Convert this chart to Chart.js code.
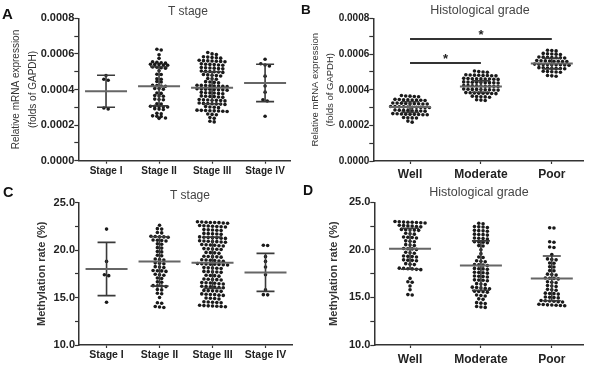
<!DOCTYPE html>
<html><head><meta charset="utf-8">
<script src="https://cdn.jsdelivr.net/npm/chart.js@4.4.1/dist/chart.umd.min.js"></script>
<style>
html,body{margin:0;padding:0;background:#fff;}
#wrap{position:relative;width:590px;height:368px;overflow:hidden;font-family:'Liberation Sans',Arial,Helvetica,sans-serif;}
canvas{position:absolute;}
.lbl{position:absolute;line-height:1;white-space:nowrap;color:#111;}
.ttl{position:absolute;line-height:1;white-space:nowrap;color:#444;transform:translateX(-50%);}
</style></head><body>
<div id="wrap">
<canvas id="cA" width="295" height="184" style="left:0;top:0;width:295px;height:184px"></canvas>
<canvas id="cB" width="295" height="184" style="left:295px;top:0;width:295px;height:184px"></canvas>
<canvas id="cC" width="295" height="184" style="left:0;top:184px;width:295px;height:184px"></canvas>
<canvas id="cD" width="295" height="184" style="left:295px;top:184px;width:295px;height:184px"></canvas>
<div class="lbl" style="left:2px;top:6px;font-size:15px;font-weight:bold">A</div>
<div class="lbl" style="left:301px;top:3px;font-size:13.5px;font-weight:bold">B</div>
<div class="lbl" style="left:3px;top:185px;font-size:14.5px;font-weight:bold">C</div>
<div class="lbl" style="left:303px;top:183px;font-size:14px;font-weight:bold">D</div>
<div class="ttl" style="left:188px;top:4.5px;font-size:12px">T stage</div>
<div class="ttl" style="left:480px;top:3.5px;font-size:12.5px">Histological grade</div>
<div class="ttl" style="left:190px;top:188.5px;font-size:12px">T stage</div>
<div class="ttl" style="left:479px;top:185.5px;font-size:12.5px">Histological grade</div>
</div>
<script>
// ---------- DATA ----------
const tStageCats = ['Stage I', 'Stage II', 'Stage III', 'Stage IV'];
const gradeCats = ['Well', 'Moderate', 'Poor'];

// Panel A: relative mRNA expression (folds of GAPDH) by T stage
const A_stageI = [0.000478, 0.000458, 0.000452, 0.000296, 0.000291];
const A_stageII = [0.000626, 0.000622, 0.000595, 0.000575,
  0.000556, 0.000553, 0.00055, 0.000548,
  0.000541, 0.000538, 0.000542, 0.000536, 0.00054,
  0.000525, 0.000522, 0.000526, 0.00052,
  0.000505, 0.000486, 0.000484, 0.00046, 0.000458, 0.000445, 0.000442,
  0.000422, 0.00042, 0.000418, 0.000424, 0.000405, 0.000402, 0.000406,
  0.00038, 0.000378, 0.000366, 0.000364, 0.000362, 0.000346, 0.000344, 0.000342,
  0.00032, 0.000318, 0.000306, 0.000305, 0.000303, 0.000302, 0.000304,
  0.00029, 0.000288, 0.000292, 0.000266, 0.000264,
  0.00025, 0.000248, 0.000252, 0.00024, 0.000238];
const A_stageIII = [0.000608, 0.0006, 0.000596,
  0.000582, 0.00058, 0.000578, 0.000584, 0.000576,
  0.000562, 0.00056, 0.000558, 0.000564, 0.000556, 0.000561, 0.000559,
  0.000542, 0.00054, 0.000538, 0.000544, 0.000536, 0.000541,
  0.000522, 0.00052, 0.000518, 0.000524, 0.000516, 0.000521,
  0.000502, 0.0005, 0.000498, 0.000504, 0.000496, 0.000501,
  0.000482, 0.00048, 0.000478, 0.000484, 0.000476,
  0.000462, 0.00046, 0.000458,
  0.000442, 0.00044, 0.000438, 0.000444,
  0.000422, 0.00042, 0.000418, 0.000424, 0.000416, 0.000421, 0.000419, 0.000423,
  0.000402, 0.0004, 0.000398, 0.000404, 0.000396, 0.000401, 0.000399, 0.000403,
  0.000382, 0.00038, 0.000378, 0.000384, 0.000376, 0.000381,
  0.000362, 0.00036, 0.000358, 0.000364, 0.000356, 0.000361,
  0.000342, 0.00034, 0.000338, 0.000344, 0.000336, 0.000341, 0.000339,
  0.000322, 0.00032, 0.000318, 0.000324, 0.000316, 0.000321, 0.000319,
  0.000302, 0.0003, 0.000298, 0.000304,
  0.000282, 0.00028, 0.000278, 0.000284, 0.000276, 0.000281, 0.000279, 0.000283,
  0.000262, 0.00026, 0.000258, 0.000242, 0.000238, 0.000222, 0.000218];
const A_stageIV = [0.00057, 0.000545, 0.000538, 0.000532, 0.000475, 0.00042, 0.000385, 0.000342, 0.000335, 0.00025];
const A_mean = [0.00039, 0.000418, 0.00041, 0.000437];
const A_sd = [0.00009, 0.00011, 0.00009, 0.000105];

// Panel B: relative mRNA expression by histological grade
const B_well = [0.000368, 0.000362, 0.000365, 0.000361, 0.000364,
  0.000344, 0.000342, 0.000346, 0.00034, 0.000343, 0.000341, 0.000345, 0.000342,
  0.000324, 0.000322, 0.000326, 0.00032, 0.000323, 0.000321, 0.000325, 0.000322, 0.00032,
  0.000304, 0.000302, 0.000306, 0.0003, 0.000303, 0.000301, 0.000305, 0.000302, 0.0003, 0.000304,
  0.000284, 0.000282, 0.000286, 0.00028, 0.000283, 0.000281, 0.000285, 0.000282,
  0.000264, 0.000262, 0.000266, 0.00026, 0.000263, 0.000261, 0.000265, 0.000262, 0.00026,
  0.000244, 0.000242, 0.000241, 0.000243, 0.000224, 0.000218];
const B_moderate = [0.000502, 0.000498, 0.000505, 0.0005,
  0.000482, 0.00048, 0.000484, 0.000478, 0.000481, 0.000479, 0.000483, 0.00048,
  0.000462, 0.00046, 0.000464, 0.000458, 0.000461, 0.000459, 0.000463, 0.00046, 0.000462,
  0.000442, 0.00044, 0.000444, 0.000438, 0.000441, 0.000439, 0.000443, 0.00044, 0.000442,
  0.000422, 0.00042, 0.000424, 0.000418, 0.000421, 0.000419, 0.000423, 0.00042, 0.000422,
  0.000402, 0.0004, 0.000404, 0.000398, 0.000401, 0.000399, 0.000403, 0.0004, 0.000402,
  0.000382, 0.00038, 0.000384, 0.000378, 0.000381, 0.000379, 0.000383, 0.00038,
  0.000362, 0.00036, 0.000364, 0.000358, 0.000361, 0.000344, 0.00034, 0.000342];
const B_poor = [0.000622, 0.000618, 0.00062,
  0.000602, 0.0006, 0.000604, 0.000598, 0.000601,
  0.000582, 0.00058, 0.000584, 0.000578, 0.000581, 0.000579, 0.000583,
  0.000562, 0.00056, 0.000564, 0.000558, 0.000561, 0.000559, 0.000563, 0.00056,
  0.000542, 0.00054, 0.000544, 0.000538, 0.000541, 0.000539, 0.000543, 0.00054, 0.000542,
  0.000522, 0.00052, 0.000524, 0.000518, 0.000521, 0.000519, 0.000523,
  0.000502, 0.0005, 0.000504, 0.000498, 0.000501, 0.00048, 0.000478, 0.000476];
const B_mean = [0.000303, 0.000418, 0.000547];
const B_sd = [0.00003, 0.000032, 0.00003];
const B_sigFrom = [0, 0];
const B_sigTo = [2, 1];
const B_sigY = [0.000685, 0.00055];
const B_sigMark = ['*', '*'];

// Panel C: methylation rate (%) by T stage
const C_stageI = [22.2, 18.8, 17.4, 17.3, 14.5];
const C_stageII = [22.6, 22.2, 22.25, 21.8, 21.85,
  21.4, 21.45, 21.35, 21.42, 21.38, 21.0, 21.05, 20.95, 21.02,
  20.6, 20.65, 20.2, 20.25, 19.8, 19.85, 19.4, 19.45,
  19.0, 19.05, 18.95, 18.6, 18.65, 18.55, 18.2, 18.25, 18.15,
  17.8, 17.85, 17.75, 17.82, 17.4, 17.45, 17.35, 17.0, 17.05, 16.6, 16.65,
  16.2, 16.25, 16.15, 16.22, 15.8, 15.85, 15.4, 15.45, 15.0,
  14.4, 14.45, 14.0, 14.05, 13.95];
const C_stageIII = [22.9, 22.95, 22.85, 22.98, 22.82, 22.92, 22.88, 22.9,
  22.5, 22.55, 22.45, 22.58, 22.42, 22.52, 22.48,
  22.1, 22.15, 22.05, 22.12, 22.08,
  21.7, 21.75, 21.65, 21.72, 21.68,
  21.3, 21.35, 21.25, 21.38, 21.22, 21.32, 21.28,
  20.9, 20.95, 20.85, 20.98, 20.82, 20.92, 20.88,
  20.5, 20.55, 20.45, 20.58, 20.42, 20.52,
  20.1, 20.15, 20.05, 20.12, 20.08,
  19.7, 19.75, 19.65, 19.72,
  19.3, 19.35, 19.25, 19.32, 19.28,
  18.9, 18.95, 18.85, 18.98, 18.82, 18.92,
  18.5, 18.55, 18.45, 18.58, 18.42, 18.52, 18.48, 18.5,
  18.1, 18.15, 18.05, 18.12, 18.08,
  17.7, 17.75, 17.65, 17.72, 17.68,
  17.3, 17.35, 17.25, 17.32,
  16.9, 16.95, 16.85, 16.92, 16.88,
  16.5, 16.55, 16.45, 16.58, 16.42, 16.52,
  16.1, 16.15, 16.05, 16.18, 16.02, 16.12,
  15.7, 15.75, 15.65, 15.72, 15.68,
  15.3, 15.35, 15.25, 15.38, 15.22, 15.32,
  14.9, 14.95, 14.85, 14.92,
  14.5, 14.55, 14.45, 14.52, 14.48,
  14.1, 14.15, 14.05, 14.18, 14.02, 14.12, 14.08];
const C_stageIV = [20.5, 20.48, 19.3, 18.8, 18.2, 17.4, 15.8, 15.3, 15.28];
const C_mean = [18.0, 18.8, 18.66, 17.64];
const C_sd = [2.8, 2.6, 2.7, 2.0];

// Panel D: methylation rate (%) by histological grade
const D_well = [22.9, 22.95, 22.85, 22.98, 22.82, 22.92, 22.88, 22.9,
  22.5, 22.55, 22.45, 22.58, 22.42, 22.52,
  22.1, 22.15, 22.05, 22.12, 22.08,
  21.7, 21.75, 21.65, 21.3, 21.35, 21.25, 21.32,
  20.9, 20.95, 20.85, 20.5, 20.55, 20.45,
  20.1, 20.15, 20.05, 20.12, 19.7, 19.75, 19.65,
  19.3, 19.35, 19.25, 19.32, 18.9, 18.95, 18.85, 18.92,
  18.5, 18.55, 18.45, 18.0, 18.05, 17.95, 18.08, 17.92, 18.02,
  17.0, 16.6, 16.65, 16.2, 15.8, 15.3, 15.25];
const D_moderate = [22.8, 22.75, 22.4, 22.45, 22.35, 22.42,
  22.0, 22.05, 21.95, 22.02, 21.6, 21.65, 21.55, 21.62,
  21.2, 21.25, 21.15, 21.22, 20.8, 20.85, 20.75, 20.82,
  20.4, 20.45, 20.0, 19.6, 19.2, 19.25, 18.8, 18.85, 18.75,
  18.4, 18.45, 18.35, 18.42, 18.0, 18.05, 17.95, 18.02,
  17.6, 17.65, 17.55, 17.62, 17.2, 17.25, 17.15, 17.22,
  16.8, 16.85, 16.75, 16.82, 16.4, 16.45, 16.35,
  16.0, 16.05, 15.95, 16.08, 15.92, 15.6, 15.65, 15.55, 15.62,
  15.2, 15.25, 15.15, 14.8, 14.85, 14.4, 14.45, 14.35, 14.0, 14.05, 13.95];
const D_poor = [22.3, 22.32, 20.8, 20.85, 20.3, 20.25, 19.5,
  19.0, 19.05, 18.95, 18.6, 18.62, 18.2, 18.22, 17.8, 17.82,
  17.4, 17.45, 17.35, 17.0, 17.05, 16.95, 17.02,
  16.6, 16.65, 16.55, 16.2, 16.25, 16.15, 15.8, 15.85, 15.75,
  15.4, 15.45, 15.35, 15.42, 15.0, 15.05, 14.95, 15.02,
  14.6, 14.65, 14.55, 14.68, 14.52, 14.62,
  14.2, 14.25, 14.15, 14.28, 14.12, 14.22, 14.18];
const D_mean = [20.12, 18.35, 17.0];
const D_sd = [2.15, 2.6, 2.35];

const exprTicks = ['0.0000', '0.0002', '0.0004', '0.0006', '0.0008'];
const methTicks = ['10.0', '15.0', '20.0', '25.0'];

// ---------- RENDERING ----------
const FONT = "'Liberation Sans', Arial, Helvetica, sans-serif";
const AXIS = '#333';

// GraphPad-like scatter layout: points with (nearly) equal y are spread side by side
function swarmOffsets(vals, pxPerY, pxPerX) {
  const ROW_PX = 2.4, STEP_PX = 4.3;
  const order = vals.map((v, i) => i).sort((a, b) => vals[b] - vals[a]);
  const rows = []; let cur = null;
  order.forEach(i => {
    if (cur && (vals[cur[0]] - vals[i]) * pxPerY <= ROW_PX) cur.push(i);
    else { cur = [i]; rows.push(cur); }
  });
  const off = new Array(vals.length).fill(0);
  rows.forEach(r => r.forEach((i, k) => { off[i] = (k - (r.length - 1) / 2) * STEP_PX / pxPerX; }));
  return off;
}

const errBars = {
  id: 'errBars',
  afterDatasetsDraw(chart, args, o) {
    if (!o.means) return;
    const { ctx, scales: { x, y } } = chart;
    ctx.save();
    o.means.forEach((m, i) => {
      const cx = x.getPixelForValue(i), s = o.sds[i];
      const ym = y.getPixelForValue(m), yt = y.getPixelForValue(m + s), yb = y.getPixelForValue(m - s);
      ctx.strokeStyle = o.sdColor; ctx.lineWidth = 1.6;
      ctx.beginPath();
      ctx.moveTo(cx, yt); ctx.lineTo(cx, yb);
      ctx.moveTo(cx - o.capHalf, yt); ctx.lineTo(cx + o.capHalf, yt);
      ctx.moveTo(cx - o.capHalf, yb); ctx.lineTo(cx + o.capHalf, yb);
      ctx.stroke();
      ctx.strokeStyle = o.meanColor; ctx.lineWidth = 2;
      ctx.beginPath(); ctx.moveTo(cx - o.meanHalf, ym); ctx.lineTo(cx + o.meanHalf, ym); ctx.stroke();
    });
    ctx.restore();
  }
};

const sigBars = {
  id: 'sigBars',
  afterDatasetsDraw(chart, args, o) {
    if (!o.from) return;
    const { ctx, scales: { x, y } } = chart;
    ctx.save();
    o.from.forEach((f, i) => {
      const x1 = x.getPixelForValue(f), x2 = x.getPixelForValue(o.to[i]), yy = y.getPixelForValue(o.y[i]);
      ctx.strokeStyle = '#333'; ctx.lineWidth = 2;
      ctx.beginPath(); ctx.moveTo(x1, yy); ctx.lineTo(x2, yy); ctx.stroke();
      ctx.fillStyle = '#222'; ctx.font = 'bold 13px ' + FONT; ctx.textAlign = 'center'; ctx.textBaseline = 'middle';
      ctx.fillText(o.marks[i], (x1 + x2) / 2, yy - 4);
    });
    ctx.restore();
  }
};

function makeChart(p) {
  const plotW = p.area.r - p.area.l, plotH = p.area.b - p.area.t;
  const pxX = plotW / (p.xmax - p.xmin), pxY = plotH / (p.ymax - p.ymin);
  const pts = [];
  p.groups.forEach((vals, gi) => {
    const off = swarmOffsets(vals, pxY, pxX);
    vals.forEach((v, k) => pts.push({ x: gi + off[k], y: v }));
  });
  return new Chart(document.getElementById(p.id), {
    type: 'scatter',
    data: { datasets: [{ data: pts, pointRadius: 1.8, pointHoverRadius: 1.8, pointBorderWidth: 0,
      backgroundColor: '#1a1a1a', borderColor: '#1a1a1a' }] },
    options: {
      responsive: false, animation: false, events: [],
      layout: { padding: { left: 0, top: p.area.t, right: p.w - p.area.r, bottom: 0 } },
      plugins: {
        legend: { display: false }, tooltip: { enabled: false },
        errBars: { means: p.means, sds: p.sds, capHalf: 9, meanHalf: 21, sdColor: '#3a3a3a', meanColor: '#666' },
        sigBars: p.sig || {}
      },
      scales: {
        x: {
          type: 'linear', min: p.xmin, max: p.xmax,
          afterBuildTicks: s => { s.ticks = p.cats.map((c, i) => ({ value: i })); },
          afterFit: s => { s.height = p.h - p.area.b; },
          ticks: { autoSkip: false, maxRotation: 0, padding: p.xpad, color: '#222',
            font: { family: FONT, size: p.xFont, weight: 'bold' }, callback: v => p.cats[v] },
          grid: { drawOnChartArea: false, drawTicks: true, tickLength: 3, tickColor: AXIS, tickWidth: 1.2 },
          border: { display: true, color: AXIS, width: 1.5 }
        },
        y: {
          min: p.ymin, max: p.ymax,
          afterFit: s => { s.width = p.area.l; },
          ticks: { stepSize: p.ystep, padding: 0, autoSkip: false, color: '#222',
            font: { family: FONT, size: p.yFont, weight: 'bold' },
            callback: v => {
              const k = Math.round((v - p.ymin) / p.ystep);
              return k % 2 === 0 ? p.yLabels[k / 2] : '';
            } },
          grid: { drawOnChartArea: false, drawTicks: true, tickLength: 4, tickColor: AXIS, tickWidth: 1.2 },
          border: { display: true, color: AXIS, width: 1.5 },
          title: { display: true, text: p.ytitle, color: '#333',
            font: { family: FONT, size: p.ytSize, weight: p.ytWeight, lineHeight: p.ytLH },
            padding: { top: p.ytPad, bottom: 0 } }
        }
      }
    },
    plugins: [errBars, sigBars]
  });
}

makeChart({ id: 'cA', w: 295, h: 184, area: { l: 78.3, r: 290, t: 18.3, b: 160.7 },
  xmin: -0.523, xmax: 3.47, ymin: 0, ymax: 0.0008, ystep: 0.0001, yLabels: exprTicks,
  cats: tStageCats, groups: [A_stageI, A_stageII, A_stageIII, A_stageIV], means: A_mean, sds: A_sd,
  xFont: 10, xpad: 1.5, yFont: 11,
  ytitle: ['Relative mRNA expression', '(folds of GAPDH)'], ytSize: 10, ytWeight: 'normal', ytLH: 1.75, ytPad: 7.2 });

makeChart({ id: 'cB', w: 295, h: 184, area: { l: 78.3, r: 288, t: 18.5, b: 161 },
  xmin: -0.518, xmax: 2.44, ymin: 0, ymax: 0.0008, ystep: 0.0001, yLabels: exprTicks,
  cats: gradeCats, groups: [B_well, B_moderate, B_poor], means: B_mean, sds: B_sd,
  sig: { from: B_sigFrom, to: B_sigTo, y: B_sigY, marks: B_sigMark },
  xFont: 12, xpad: 3.8, yFont: 10,
  ytitle: ['Relative mRNA expression', '(folds of GAPDH)'], ytSize: 9.5, ytWeight: 'normal', ytLH: 1.6, ytPad: 12.4 });

makeChart({ id: 'cC', w: 295, h: 184, area: { l: 79, r: 292, t: 18.5, b: 161 },
  xmin: -0.52, xmax: 3.5, ymin: 10, ymax: 25, ystep: 2.5, yLabels: methTicks,
  cats: tStageCats, groups: [C_stageI, C_stageII, C_stageIII, C_stageIV], means: C_mean, sds: C_sd,
  xFont: 10.5, xpad: 0.7, yFont: 11,
  ytitle: 'Methylation rate (%)', ytSize: 11, ytWeight: 'bold', ytLH: 1.2, ytPad: 35 });

makeChart({ id: 'cD', w: 295, h: 184, area: { l: 79.3, r: 288, t: 18.3, b: 161 },
  xmin: -0.504, xmax: 2.44, ymin: 10, ymax: 25, ystep: 2.5, yLabels: methTicks,
  cats: gradeCats, groups: [D_well, D_moderate, D_poor], means: D_mean, sds: D_sd,
  xFont: 12, xpad: 4.8, yFont: 11,
  ytitle: 'Methylation rate (%)', ytSize: 11, ytWeight: 'bold', ytLH: 1.2, ytPad: 32.4 });
</script>
</body></html>
